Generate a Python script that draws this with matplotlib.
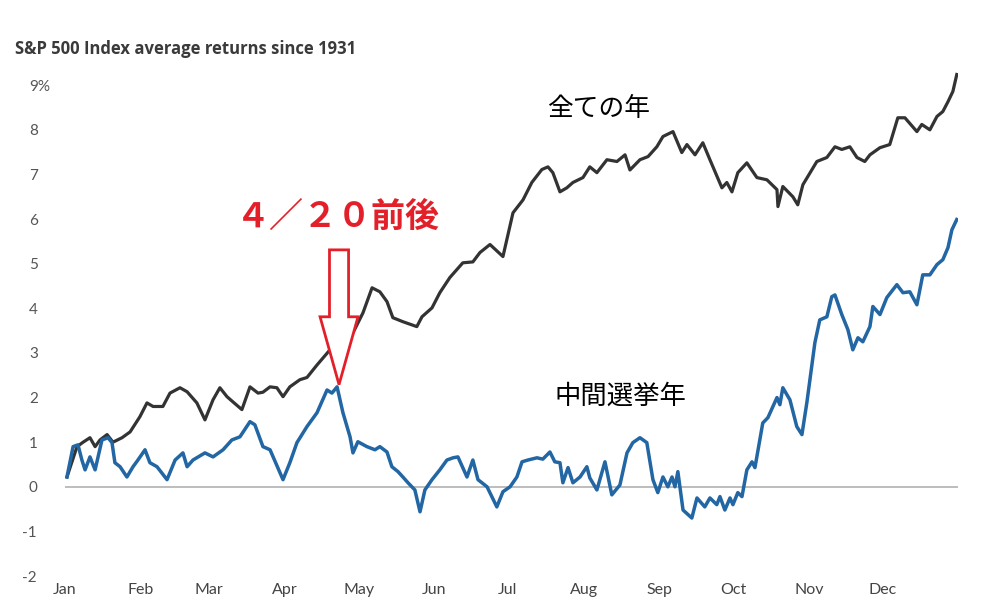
import matplotlib
matplotlib.use("Agg")
import matplotlib.pyplot as plt
from matplotlib.patches import FancyArrow
from matplotlib.transforms import ScaledTranslation

# 日付（年初からの日数）と平均リターン（%）
all_days = [0.8, 4.9, 7.4, 10.2, 12.3, 14.3, 17.2, 19.6, 23.3, 26.6, 30.6, 33.5, 36.0, 40.0,
            42.9, 47.0, 49.9, 53.9, 57.2, 60.5, 63.3, 66.2, 68.7, 72.3, 75.6, 78.9, 80.9,
            83.8, 86.6, 89.1, 91.9, 96.0, 98.9, 103.0, 108.3, 113.6, 117.7, 121.8, 125.5,
            128.7, 131.6, 134.0, 138.1, 143.8, 145.9, 150.0, 153.2, 157.3, 162.6, 166.7,
            169.6, 173.7, 179.0, 183.1, 187.2, 190.8, 194.9, 197.4, 199.4, 202.3, 205.1,
            207.6, 211.7, 214.5, 217.4, 221.5, 225.6, 228.9, 230.9, 235.0, 238.3, 241.9,
            244.4, 248.5, 252.1, 254.2, 257.5, 260.7, 263.6, 268.5, 270.5, 272.6, 275.0,
            278.7, 282.8, 286.9, 291.0, 291.4, 293.4, 297.5, 299.5, 301.6, 307.3, 311.4,
            314.7, 317.5, 320.8, 323.7, 326.9, 329.0, 333.1, 337.1, 340.4, 343.3, 348.2,
            350.2, 353.5, 356.4, 358.8, 360.9, 362.9, 364.5]
all_vals = [0.22, 0.9, 1.0, 1.1, 0.9, 1.05, 1.17, 1.0, 1.1, 1.23, 1.57, 1.88, 1.8, 1.8,
            2.1, 2.22, 2.13, 1.88, 1.5, 1.95, 2.22, 2.02, 1.9, 1.73, 2.24, 2.1, 2.12,
            2.24, 2.22, 2.02, 2.24, 2.4, 2.45, 2.73, 3.07, 3.3, 3.45, 3.9, 4.46,
            4.37, 4.15, 3.79, 3.7, 3.59, 3.81, 4.01, 4.35, 4.69, 5.02, 5.04,
            5.25, 5.43, 5.16, 6.14, 6.43, 6.82, 7.11, 7.17, 7.04, 6.61, 6.7,
            6.82, 6.93, 7.17, 7.04, 7.33, 7.29, 7.44, 7.1, 7.33, 7.4, 7.62,
            7.85, 7.96, 7.49, 7.67, 7.44, 7.71, 7.33, 6.7, 6.82, 6.61, 7.04,
            7.26, 6.93, 6.88, 6.66, 6.28, 6.73, 6.5, 6.32, 6.77, 7.29, 7.38,
            7.62, 7.56, 7.62, 7.38, 7.29, 7.44, 7.6, 7.67, 8.27, 8.27, 7.96,
            8.12, 8.0, 8.3, 8.41, 8.63, 8.86, 9.24]

mid_days = [0.8, 3.3, 5.3, 6.9, 8.2, 10.2, 12.3, 15.1, 17.6, 19.2, 20.4, 22.5, 25.3, 27.8,
            29.8, 32.7, 34.7, 37.6, 41.7, 45.0, 48.2, 49.9, 52.3, 57.2, 60.5, 64.6, 68.2,
            71.5, 75.6, 77.6, 80.9, 83.8, 87.9, 89.1, 91.9, 94.8, 98.9, 103.0, 107.1,
            109.1, 111.2, 113.6, 116.5, 117.7, 119.7, 123.4, 126.7, 128.7, 131.6, 133.6,
            136.1, 138.1, 140.2, 143.0, 145.1, 147.1, 150.0, 153.2, 156.1, 158.6, 160.6,
            164.3, 166.7, 168.8, 172.5, 176.5, 179.0, 181.9, 184.7, 186.8, 189.2, 192.9,
            195.3, 198.2, 200.2, 202.3, 203.5, 205.6, 207.6, 210.5, 213.3, 214.5, 217.4,
            220.7, 223.5, 226.8, 229.7, 232.1, 235.0, 237.8, 240.3, 242.3, 244.4, 246.4,
            248.1, 249.3, 250.5, 252.6, 256.2, 258.3, 261.5, 263.6, 266.4, 267.7, 269.7,
            271.8, 273.0, 275.0, 276.7, 278.7, 280.8, 282.0, 285.2, 287.3, 291.0, 292.2,
            293.4, 296.3, 299.1, 301.2, 303.2, 306.5, 308.5, 311.4, 313.4, 314.7, 317.5,
            320.0, 322.0, 324.1, 326.1, 329.0, 330.2, 333.1, 335.9, 340.0, 342.5, 345.3,
            348.2, 350.6, 353.5, 356.4, 358.8, 360.9, 362.5, 364.5]
mid_vals = [0.22, 0.9, 0.94, 0.6, 0.38, 0.67, 0.38, 1.05, 1.1, 0.99, 0.54, 0.45, 0.22, 0.45,
            0.6, 0.83, 0.54, 0.45, 0.16, 0.6, 0.76, 0.45, 0.6, 0.76, 0.67, 0.83, 1.05,
            1.12, 1.46, 1.39, 0.9, 0.83, 0.31, 0.16, 0.54, 0.99, 1.35, 1.66, 2.17,
            2.1, 2.24, 1.66, 1.12, 0.76, 1.01, 0.9, 0.83, 0.9, 0.78, 0.45,
            0.34, 0.22, 0.09, -0.07, -0.56, -0.07, 0.16, 0.38, 0.6, 0.65, 0.67,
            0.22, 0.6, 0.16, 0.0, -0.45, -0.11, 0.0, 0.22, 0.56, 0.6, 0.65,
            0.62, 0.78, 0.56, 0.54, 0.09, 0.43, 0.09, 0.22, 0.45, 0.2, -0.07,
            0.56, -0.18, 0.04, 0.76, 0.99, 1.1, 0.99, 0.16, -0.13, 0.22, 0.0,
            0.22, 0.0, 0.34, -0.52, -0.7, -0.25, -0.45, -0.25, -0.4, -0.22, -0.52,
            -0.25, -0.4, -0.13, -0.22, 0.38, 0.56, 0.43, 1.43, 1.55, 2.0, 1.84,
            2.22, 1.95, 1.35, 1.17, 1.88, 3.23, 3.74, 3.81, 4.26, 4.3, 3.86,
            3.52, 3.07, 3.34, 3.25, 3.59, 4.04, 3.86, 4.24, 4.53, 4.35, 4.37,
            4.08, 4.75, 4.75, 4.98, 5.09, 5.36, 5.76, 5.99]

month_starts = [0, 31, 59, 90, 120, 151, 181, 212, 243, 273, 304, 334]
month_labels = ["Jan", "Feb", "Mar", "Apr", "May", "Jun",
                "Jul", "Aug", "Sep", "Oct", "Nov", "Dec"]
y_ticks = [-2, -1, 0, 1, 2, 3, 4, 5, 6, 7, 8, 9]
y_labels = ["-2", "-1", "0", "1", "2", "3", "4", "5", "6", "7", "8", "9%"]

plt.rcParams['font.family'] = ['Lato', 'DejaVu Sans']

fig = plt.figure(figsize=(9.85, 6.03), dpi=100)
ax = fig.add_axes([0.066, 0.0373, 0.9066, 0.851])

ax.axhline(0, color="#b8b8b8", lw=1.3, zorder=1)
ax.plot(all_days, all_vals, color="#333333", lw=2.3, zorder=3)
ax.plot(mid_days, mid_vals, color="#2266a3", lw=2.5, zorder=3)

ax.set_xlim(0, 365)
ax.set_ylim(-2.1, 9.4)
for s in ax.spines.values():
    s.set_visible(False)

ax.set_xticks(month_starts)
ax.set_xticklabels(month_labels, fontsize=11.5, color="#444444")
ax.set_yticks(y_ticks)
ax.set_yticklabels(y_labels, fontsize=11, color="#555555")
ax.tick_params(axis="x", length=0, pad=2)
ax.tick_params(axis="y", length=0, pad=26)
for lbl, v in zip(ax.get_yticklabels(), y_ticks):
    lbl.set_ha("left")
    if v < 0:
        lbl.set_transform(lbl.get_transform() + ScaledTranslation(-0.07, 0, fig.dpi_scale_trans))

fig.text(0.015, 0.918, "S&P 500 Index average returns since 1931", fontsize=12,
         fontweight="bold", family=['Open Sans', 'DejaVu Sans'], color="#3a3a3a", va="center")

jp = ['Noto Sans CJK JP', 'DejaVu Sans']
ax.text(197, 8.47, "全ての年", fontsize=18.5, family=jp, color="black", va="center")
ax.text(200, 2.02, "中間選挙年", fontsize=19, family=jp, color="black", va="center")
ax.text(70, 6.05, "４／２０前後", fontsize=24.5, family=jp, fontweight="bold",
        color="#e3202a", va="center")

arrow = FancyArrow(112, 5.31, 0, -3.02, width=7.8, head_width=15.5, head_length=1.52,
                   length_includes_head=True, facecolor="white", edgecolor="#e3202a",
                   lw=2, zorder=5)
ax.add_patch(arrow)

fig.savefig("out.png", dpi=100)
